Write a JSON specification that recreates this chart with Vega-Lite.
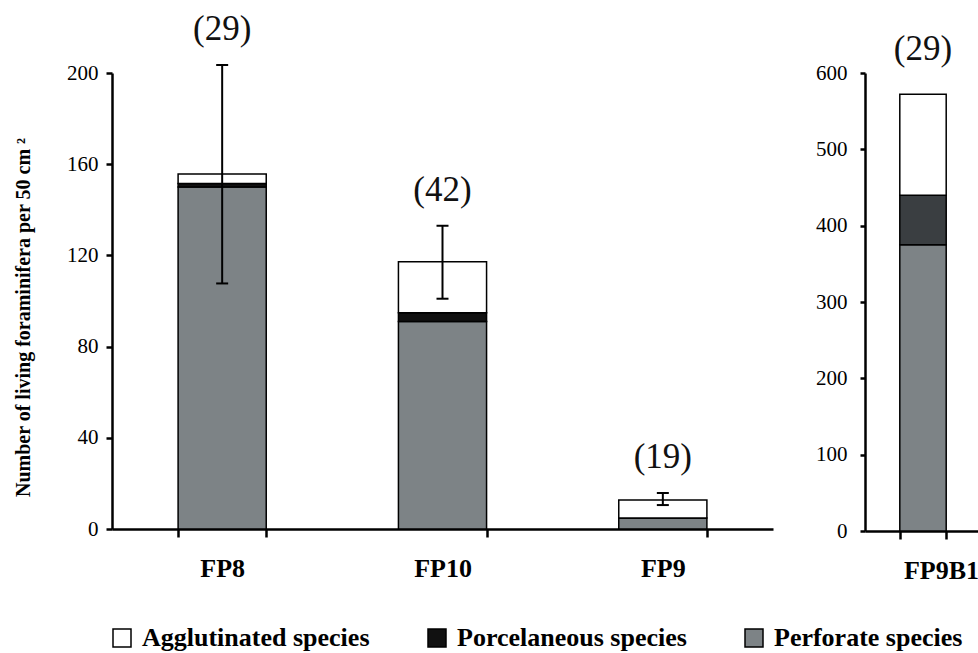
{
  "$schema": "https://vega.github.io/schema/vega-lite/v6.json",
  "background": "white",
  "padding": {"left": 13, "top": 12, "right": 0, "bottom": 0},
  "config": {
    "view": {"stroke": null},
    "font": "Liberation Serif",
    "axis": {
      "labelFont": "Liberation Serif", "titleFont": "Liberation Serif",
      "labelColor": "black", "titleColor": "black",
      "domainColor": "black", "tickColor": "black",
      "domainWidth": 2.5, "tickWidth": 2.5, "grid": false
    },
    "style": {
      "guide-label": {"font": "Liberation Serif", "fill": "black"},
      "guide-title": {"font": "Liberation Serif", "fill": "black"}
    }
  },
  "datasets": {
    "left": [
      {"site": "FP8", "group": "Perforate species", "rank": 1, "count": 150},
      {"site": "FP8", "group": "Porcelaneous species", "rank": 2, "count": 1.5},
      {"site": "FP8", "group": "Agglutinated species", "rank": 3, "count": 4.2},
      {"site": "FP10", "group": "Perforate species", "rank": 1, "count": 91},
      {"site": "FP10", "group": "Porcelaneous species", "rank": 2, "count": 3.8},
      {"site": "FP10", "group": "Agglutinated species", "rank": 3, "count": 22.4},
      {"site": "FP9", "group": "Perforate species", "rank": 1, "count": 4.8},
      {"site": "FP9", "group": "Porcelaneous species", "rank": 2, "count": 0},
      {"site": "FP9", "group": "Agglutinated species", "rank": 3, "count": 7.9}
    ],
    "leftErr": [
      {"site": "FP8", "lo": 107.7, "hi": 203.5, "n": "(29)"},
      {"site": "FP10", "lo": 101, "hi": 133, "n": "(42)"},
      {"site": "FP9", "lo": 10.5, "hi": 15.8, "n": "(19)"}
    ],
    "right": [
      {"site": "FP9B1", "group": "Perforate species", "rank": 1, "count": 375},
      {"site": "FP9B1", "group": "Porcelaneous species", "rank": 2, "count": 65},
      {"site": "FP9B1", "group": "Agglutinated species", "rank": 3, "count": 132}
    ],
    "rightLabel": [
      {"site": "FP9B1", "total": 572, "n": "(29)"}
    ]
  },
  "bounds": "flush",
  "spacing": 92,
  "resolve": {"scale": {"color": "independent"}, "legend": {"color": "independent"}},
  "hconcat": [
    {
      "width": 661,
      "height": 456,
      "layer": [
        {
          "data": {"name": "left"},
          "mark": {"type": "bar", "stroke": "black", "strokeWidth": 1.5},
          "encoding": {
            "x": {
              "field": "site", "type": "nominal", "sort": ["FP8", "FP10", "FP9"], "title": null,
              "scale": {"paddingInner": 0.6, "paddingOuter": 0.3},
              "axis": {
                "labelAngle": 0, "labelFont": "Liberation Serif", "labelFontSize": 26, "labelFontWeight": "bold",
                "labelColor": "black", "labelPadding": 18, "tickBand": "extent", "tickSize": 8,
                "tickColor": "black", "tickWidth": 2.5, "domainColor": "black", "domainWidth": 2.5, "grid": false
              }
            },
            "y": {
              "field": "count", "type": "quantitative", "stack": "zero",
              "title": "Number of living foraminifera per 50 cm ²",
              "scale": {"domain": [0, 200], "nice": false},
              "axis": {
                "titleFont": "Liberation Serif", "titleFontSize": 20, "titleFontWeight": "bold",
                "titleColor": "black", "titlePadding": 33, "titleY": 244,
                "values": [0, 40, 80, 120, 160, 200],
                "labelFont": "Liberation Serif", "labelFontSize": 21, "labelColor": "black", "labelPadding": 8,
                "tickSize": 6, "tickColor": "black", "tickWidth": 2.5, "domainColor": "black", "domainWidth": 2.5, "grid": false
              }
            },
            "color": {
              "field": "group", "type": "nominal",
              "scale": {
                "domain": ["Agglutinated species", "Porcelaneous species", "Perforate species"],
                "range": ["#ffffff", "#111111", "#7d8386"]
              },
              "legend": {
                "orient": "none", "legendX": -3, "legendY": 552, "direction": "horizontal",
                "title": null, "symbolType": "square", "symbolSize": 324,
                "symbolStrokeColor": "black", "symbolStrokeWidth": 1.5,
                "labelFont": "Liberation Serif", "labelFontSize": 26, "labelFontWeight": "bold",
                "labelColor": "black", "labelOffset": 7, "columnPadding": 54, "labelLimit": 400
              }
            },
            "order": {"field": "rank", "type": "quantitative"}
          }
        },
        {
          "data": {"name": "leftErr"},
          "mark": {"type": "rule", "strokeWidth": 2, "color": "black"},
          "encoding": {
            "x": {"field": "site", "type": "nominal", "sort": ["FP8", "FP10", "FP9"], "title": null},
            "y": {"field": "lo", "type": "quantitative", "title": "Number of living foraminifera per 50 cm ²"},
            "y2": {"field": "hi"}
          }
        },
        {
          "data": {"name": "leftErr"},
          "mark": {"type": "tick", "size": 12, "thickness": 2, "color": "black", "opacity": 1},
          "encoding": {
            "x": {"field": "site", "type": "nominal", "sort": ["FP8", "FP10", "FP9"], "title": null},
            "y": {"field": "lo", "type": "quantitative", "title": "Number of living foraminifera per 50 cm ²"}
          }
        },
        {
          "data": {"name": "leftErr"},
          "mark": {"type": "tick", "size": 12, "thickness": 2, "color": "black", "opacity": 1},
          "encoding": {
            "x": {"field": "site", "type": "nominal", "sort": ["FP8", "FP10", "FP9"], "title": null},
            "y": {"field": "hi", "type": "quantitative", "title": "Number of living foraminifera per 50 cm ²"}
          }
        },
        {
          "data": {"name": "leftErr"},
          "mark": {"type": "text", "fontSize": 35, "font": "Liberation Serif", "baseline": "bottom", "dy": -18, "color": "#111111"},
          "encoding": {
            "x": {"field": "site", "type": "nominal", "sort": ["FP8", "FP10", "FP9"], "title": null},
            "y": {"field": "hi", "type": "quantitative", "title": "Number of living foraminifera per 50 cm ²"},
            "text": {"field": "n"}
          }
        }
      ]
    },
    {
      "width": 116,
      "height": 458,
      "layer": [
        {
          "data": {"name": "right"},
          "mark": {"type": "bar", "stroke": "black", "strokeWidth": 1.5},
          "encoding": {
            "x": {
              "field": "site", "type": "nominal", "title": null,
              "scale": {"paddingInner": 0.6, "paddingOuter": 0.3},
              "axis": {
                "labelAngle": 0, "labelFont": "Liberation Serif", "labelFontSize": 26, "labelFontWeight": "bold",
                "labelColor": "black", "labelPadding": 18, "tickBand": "extent", "tickSize": 8, "labelOffset": 18,
                "tickColor": "black", "tickWidth": 2.5, "domainColor": "black", "domainWidth": 2.5, "grid": false
              }
            },
            "y": {
              "field": "count", "type": "quantitative", "stack": "zero", "title": null,
              "scale": {"domain": [0, 600], "nice": false},
              "axis": {
                "values": [0, 100, 200, 300, 400, 500, 600],
                "labelFont": "Liberation Serif", "labelFontSize": 21, "labelColor": "black", "labelPadding": 13,
                "tickSize": 5, "tickColor": "black", "tickWidth": 2.5, "domainColor": "black", "domainWidth": 2.5, "grid": false
              }
            },
            "color": {
              "field": "group", "type": "nominal",
              "scale": {
                "domain": ["Agglutinated species", "Porcelaneous species", "Perforate species"],
                "range": ["#ffffff", "#3a3e41", "#7d8386"]
              },
              "legend": null
            },
            "order": {"field": "rank", "type": "quantitative"}
          }
        },
        {
          "data": {"name": "rightLabel"},
          "mark": {"type": "text", "fontSize": 35, "font": "Liberation Serif", "baseline": "bottom", "dy": -27, "color": "#111111"},
          "encoding": {
            "x": {"field": "site", "type": "nominal", "title": null},
            "y": {"field": "total", "type": "quantitative", "title": null},
            "text": {"field": "n"}
          }
        }
      ]
    }
  ]
}
